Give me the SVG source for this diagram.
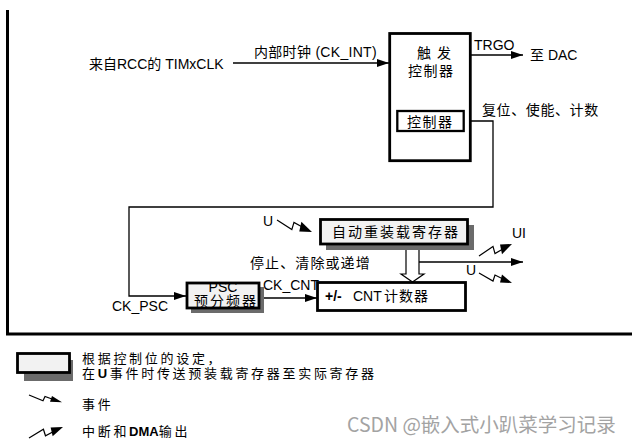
<svg xmlns="http://www.w3.org/2000/svg" width="632" height="444" viewBox="0 0 632 444">
<style>
text{font-family:"Liberation Sans","Noto Sans CJK SC",sans-serif;fill:#000;font-size:14px}
.b{font-weight:bold}
.ln{fill:none;stroke:#000;stroke-width:1.3}
.box{stroke:#000;stroke-width:2.8;fill:#fff}
.reg{stroke:#000;stroke-width:2.8;fill:#f2f2f2}
.sh{fill:#6b6b6b}
.lg{font-size:13px;letter-spacing:2.7px}
.wm{font-family:"Noto Sans CJK SC",sans-serif;fill:#a3a3a3;font-size:19.5px}
</style>
<defs>
<marker id="ar" markerUnits="userSpaceOnUse" markerWidth="13" markerHeight="10" refX="12" refY="4" orient="auto">
<path d="M0,0 L12,4 L0,8 z" fill="#000"/>
</marker>
<g id="evt">
<path d="M0,0 L14,8 L16,2 L23,5.5" fill="none" stroke="#000" stroke-width="1.2" vector-effect="non-scaling-stroke"/>
<polygon points="33,10 23,1.5 21,9.5" fill="#000"/>
</g>
</defs>

<!-- frame -->
<g id="frame" fill="none" stroke="#000" stroke-width="3">
<path d="M7.5,10 V334 H632"/>
</g>

<!-- connectors -->
<g id="connectors">
<path class="ln" d="M233,63 H389" marker-end="url(#ar)"/>
<path class="ln" d="M471,55 H523" marker-end="url(#ar)"/>
<path class="ln" d="M471,121 H493 V207 H129 V296 H186" marker-end="url(#ar)"/>
<path class="ln" d="M259,298 H317" marker-end="url(#ar)"/>
<path class="ln" d="M419,262 H523" marker-end="url(#ar)"/>
<polygon points="406,245 406,274 401,274 412.5,282 424,274 419,274 419,245" fill="#fff" stroke="#000" stroke-width="1.2"/>
<use href="#evt" transform="translate(277,220) scale(1.06,1.2)"/>
<use href="#evt" transform="translate(479,256) scale(1,-1.2)"/>
<use href="#evt" transform="translate(479,273) scale(1,1)"/>
</g>

<!-- input label -->
<g id="input">
<text x="89" y="69">来自RCC的 TIMxCLK</text>
<text x="254" y="57" letter-spacing="0.3">内部时钟 (CK_INT)</text>
</g>

<!-- trigger controller -->
<g id="trigger">
<rect class="box" x="389.7" y="33.5" width="80.6" height="127.2"/>
<text x="417" y="58">触</text>
<text x="437" y="58">发</text>
<text x="408" y="76" letter-spacing="1.5">控制器</text>
<rect x="397.3" y="111" width="66.4" height="20" fill="#fff" stroke="#000" stroke-width="2.3"/>
<text x="407" y="127" letter-spacing="1.5">控制器</text>
</g>

<g id="trgo">
<text x="474" y="50" font-size="13.5">TRGO</text>
<text x="530" y="60">至 DAC</text>
<text x="482" y="115" font-size="13" letter-spacing="0.6">复位、使能、计数</text>
</g>

<!-- auto reload register -->
<g id="arr">
<rect class="sh" x="326" y="225" width="148" height="25"/>
<rect class="reg" x="320.5" y="219.5" width="147" height="24.5"/>
<text x="332" y="237" font-size="13.5" letter-spacing="2">自动重装载寄存器</text>
<text x="263" y="226" font-size="12">U</text>
</g>

<g id="labels">
<text x="250" y="268" font-size="13" letter-spacing="1.1">停止、清除或递增</text>
<text x="512" y="238" font-size="13">UI</text>
<text x="466" y="275" font-size="13">U</text>
<text x="112" y="311" font-size="13.3">CK_PSC</text>
<text x="263" y="290" font-size="13.5">CK_CNT</text>
</g>

<!-- prescaler -->
<g id="psc">
<rect class="sh" x="191" y="287" width="73" height="26"/>
<rect class="reg" x="187" y="283" width="72" height="25"/>
<text x="223" y="291.5" font-size="12" text-anchor="middle">PSC</text>
<text x="194" y="306" font-size="12.5" letter-spacing="2">预分频器</text>
</g>

<!-- counter -->
<g id="cnt">
<rect class="box" x="317.5" y="282.5" width="148" height="28" stroke-width="2.5"/>
<text x="325" y="301" font-size="13" class="b">+/-</text>
<text x="353" y="301">CNT</text>
<text x="384" y="301" letter-spacing="1">计数器</text>
</g>

<!-- legend -->
<g id="legend">
<rect class="sh" x="24" y="360" width="49" height="21"/>
<rect class="reg" x="17.5" y="353.5" width="52" height="19"/>
<text class="lg" x="82" y="363">根据控制位的设定，</text>
<text class="lg" x="82" y="378">在<tspan class="b">U</tspan>事件时传送预装载寄存器至实际寄存器</text>
<use href="#evt" transform="translate(29,395) scale(1,0.72)"/>
<text class="lg" x="82" y="409">事件</text>
<use href="#evt" transform="translate(29,438) scale(1.03,-1.1)"/>
<text class="lg" x="82" y="436">中断和<tspan class="b" letter-spacing="0">DMA</tspan>输出</text>
</g>

<text class="wm" x="347" y="432">CSDN @嵌入式小趴菜学习记录</text>
</svg>
